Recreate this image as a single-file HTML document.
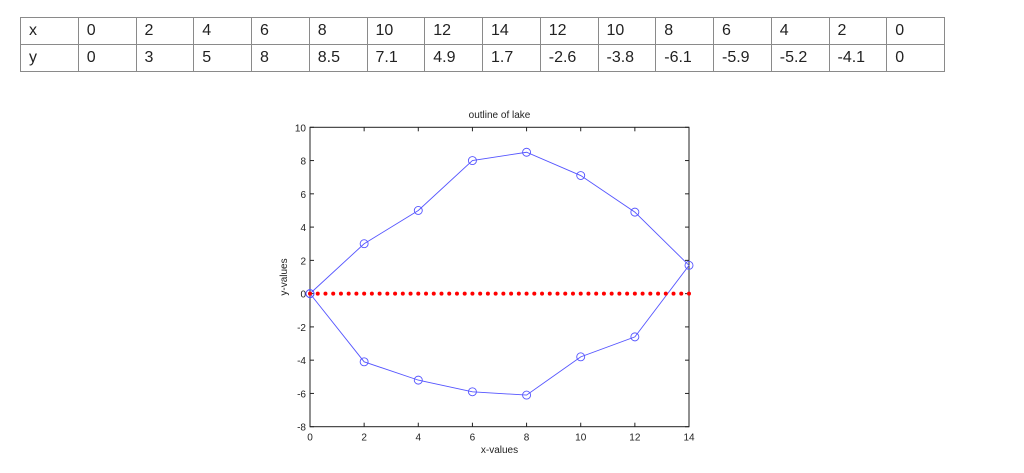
<!DOCTYPE html>
<html><head><meta charset="utf-8"><style>
body{margin:0;background:#fff;width:1024px;height:473px;overflow:hidden;position:relative;font-family:"Liberation Sans",sans-serif}
table{position:absolute;left:20px;top:17px;border-collapse:collapse;table-layout:fixed;width:925px}
td{border:1.5px solid #8a8a8a;height:26px;padding:0 0 0 8px;font-size:16px;color:#222;line-height:26px;box-sizing:border-box}
svg{position:absolute;left:0;top:0}
</style></head><body>
<table>
<tr><td>x</td><td>0</td><td>2</td><td>4</td><td>6</td><td>8</td><td>10</td><td>12</td><td>14</td><td>12</td><td>10</td><td>8</td><td>6</td><td>4</td><td>2</td><td>0</td></tr>
<tr><td>y</td><td>0</td><td>3</td><td>5</td><td>8</td><td>8.5</td><td>7.1</td><td>4.9</td><td>1.7</td><td>-2.6</td><td>-3.8</td><td>-6.1</td><td>-5.9</td><td>-5.2</td><td>-4.1</td><td>0</td></tr>
</table>
<svg id="c" width="1024" height="473"></svg>
<script>
const xs=[0,2,4,6,8,10,12,14,12,10,8,6,4,2,0];
const ys=[0,3,5,8,8.5,7.1,4.9,1.7,-2.6,-3.8,-6.1,-5.9,-5.2,-4.1,0];
const xTicks=[0,2,4,6,8,10,12,14];
const yTicks=[-8,-6,-4,-2,0,2,4,6,8,10];
const dotCount=50;
const L=310,R=689,T=127.3,B=426.7;
const sx=v=>L+(v-0)/(14-0)*(R-L);
const sy=v=>B-(v+8)/(10+8)*(B-T);
const s=document.getElementById('c');const NS='http://www.w3.org/2000/svg';
function mk(t,a,txt){const e=document.createElementNS(NS,t);for(const k in a)e.setAttribute(k,a[k]);if(txt!=null)e.textContent=txt;s.appendChild(e);return e;}
let e=mk('rect',{x:L,y:T,width:R-L,height:B-T,fill:'none',stroke:'#222','stroke-width':1});


xTicks.forEach(v=>{const x=sx(v);
mk('line',{x1:x,x2:x,y1:B,y2:B-4,stroke:'#222'});mk('line',{x1:x,x2:x,y1:T,y2:T+4,stroke:'#222'});
const t=mk('text',{x:x,y:B+14,'text-anchor':'middle','font-size':10,fill:'#222'},v);

});
yTicks.forEach(v=>{const y=sy(v);
mk('line',{x1:L,x2:L+4,y1:y,y2:y,stroke:'#222'});mk('line',{x1:R,x2:R-4,y1:y,y2:y,stroke:'#222'});
const t=mk('text',{x:L-4,y:y+4,'text-anchor':'end','font-size':10,fill:'#222'},v);

});
const p=mk('polyline',{points:xs.map((x,i)=>sx(x)+','+sy(ys[i])).join(' '),fill:'none',stroke:'#5555ff','stroke-width':0.9});


xs.forEach((x,i)=>{const c=mk('circle',{cx:sx(x),cy:sy(ys[i]),r:4,fill:'none',stroke:'#5555ff','stroke-width':0.9});

});
for(let i=0;i<dotCount;i++){const v=14*i/(dotCount-1);
const d=mk('circle',{cx:sx(v),cy:sy(0),r:2,fill:'#ff0000'});

}
let t=mk('text',{x:(L+R)/2,y:118,'text-anchor':'middle','font-size':10,fill:'#222'},'outline of lake');


t=mk('text',{x:(L+R)/2,y:453,'text-anchor':'middle','font-size':10,fill:'#222'},'x-values');


t=mk('text',{x:0,y:0,'text-anchor':'middle','font-size':10,fill:'#222',transform:'translate(287,'+((T+B)/2)+') rotate(-90)'},'y-values');


</script>
</body></html>
